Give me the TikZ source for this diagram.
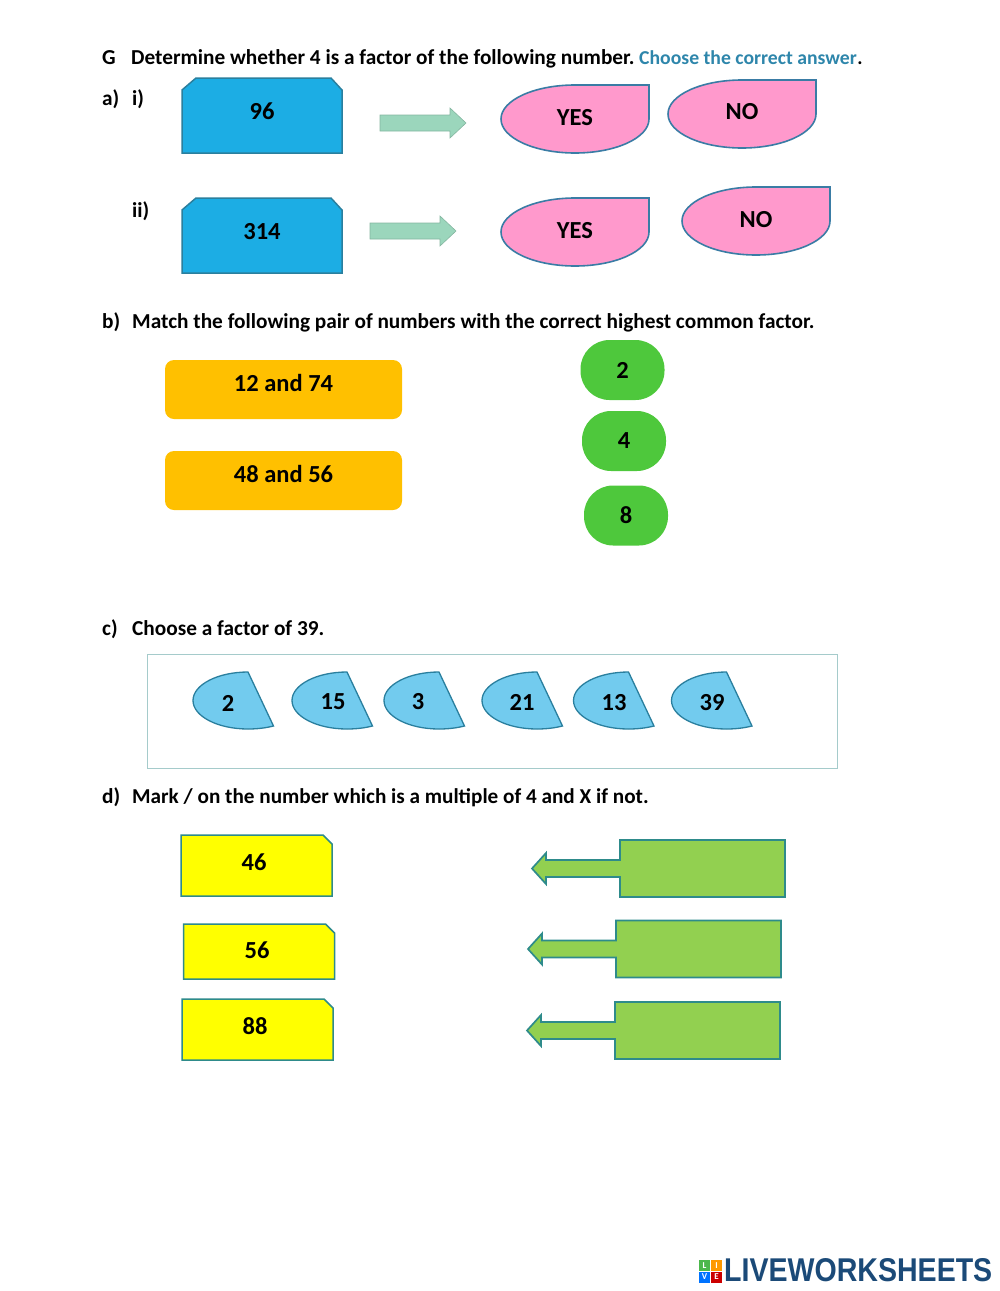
\documentclass[tikz,border=0pt]{standalone}
\usepackage{fontspec}
\setmainfont{Carlito}
\newfontfamily\logofont{Liberation Sans}
\usepackage{graphicx}
\definecolor{blockblue}{HTML}{1CADE4}
\definecolor{skyblue}{HTML}{72CBEE}
\definecolor{edgeblue}{HTML}{2A7F9E}
\definecolor{blockpink}{HTML}{FF99CC}
\definecolor{edgepink}{HTML}{3A7CA5}
\definecolor{blockorange}{HTML}{FFC000}
\definecolor{blockgreen}{HTML}{4EC83C}
\definecolor{blockyellow}{HTML}{FFFF00}
\definecolor{limegreen}{HTML}{92D050}
\definecolor{edgeteal}{HTML}{2E8B8B}
\definecolor{arrowmint}{HTML}{9BD6BC}
\definecolor{framegray}{HTML}{A5CBCB}
\definecolor{headteal}{HTML}{2E86AB}
\definecolor{logoblue}{HTML}{1B4A78}
% shapes with their top left corner at (#1,#2)
\newcommand{\cutbox}[2]{\draw[cutshape, shift={(#1,#2)}] (0,75) -- (0,12) -- (14,0) -- (149,0) -- (160,12) -- (160,75) -- cycle;}
\newcommand{\dropbox}[2]{\draw[dropshape, shift={(#1,#2)}] (148,0) -- (148,34)
 .. controls (148,52.8) and (114.9,68) .. (74,68)
 .. controls (33.1,68) and (0,52.8) .. (0,34)
 .. controls (0,15.2) and (33.1,0) .. (74,0) -- cycle;}
\newcommand{\piebox}[1]{\draw[pieshape, shift={(#1,672)}] (80.5,54)
 .. controls (72.5,56) and (64,57) .. (55,57)
 .. controls (24.6,57) and (0,44.2) .. (0,28.5)
 .. controls (0,12.8) and (24.6,0) .. (55,0) -- cycle;}
% #3 is the height of the tag
\newcommand{\tagbox}[3]{\draw[tagshape, shift={(#1,#2)}] (0,0) -- (142,0) -- (151,9) -- (151,#3) -- (0,#3) -- cycle;}
% #1 tip x, #2 top of the box
\newcommand{\callout}[2]{\draw[calloutshape, shift={(#1,#2)}] (0,28.5) -- (14,13) -- (14,20) -- (88,20) -- (88,0) -- (253,0) -- (253,57) -- (88,57) -- (88,37) -- (14,37) -- (14,44) -- cycle;}
\newcommand{\fatarrow}[2]{\draw[arrowshape, shift={(#1,#2)}] (0,-8) -- (70,-8) -- (70,-15) -- (86,0) -- (70,15) -- (70,8) -- (0,8) -- cycle;}
\begin{document}
\begin{tikzpicture}[x=1pt, y=-1pt, line join=miter,
textline/.style={anchor=base west, inner sep=0pt, font=\fontsize{21.3}{25}\selectfont\bfseries},
hintline/.style={anchor=base west, inner sep=0pt, font=\fontsize{19.7}{23}\selectfont\bfseries},
value/.style={inner sep=0pt, font=\fontsize{24.5}{28}\selectfont\bfseries},
cutshape/.style={fill=blockblue, draw=edgeblue, line width=1.5pt},
dropshape/.style={fill=blockpink, draw=edgepink, line width=1.6pt},
pieshape/.style={fill=skyblue, draw=edgeblue, line width=1.3pt},
tagshape/.style={fill=blockyellow, draw=edgeteal, line width=1.5pt},
calloutshape/.style={fill=limegreen, draw=edgeteal, line width=1.7pt},
arrowshape/.style={fill=arrowmint, draw=arrowmint!85!black, line width=.6pt},
pairbox/.style={fill=blockorange, rounded corners=9pt, minimum width=237pt, minimum height=59pt, inner sep=0pt, font=\fontsize{24.5}{28}\selectfont\bfseries},
pillbox/.style={fill=blockgreen, rounded corners=29pt, minimum width=84pt, minimum height=60pt, inner sep=0pt, font=\fontsize{24.5}{28}\selectfont\bfseries}
]
\useasboundingbox (0,0) rectangle (1000,1291);

% Heading
\node[textline] (headG) at (102,64.5) {G};
\node[textline] (headtext) at (131,64.5) {Determine whether 4 is a factor of the following number.};
\node[hintline, text=headteal] (headhint) at (639,64.5) {Choose the correct answer};
\node[hintline] (headdot) at (headhint.base east) {.};

% Part a
\node[textline] (parta) at (102,105) {a)};
\node[textline] (parti) at (132,105) {i)};
\node[textline] (partii) at (132,217) {ii)};
\cutbox{182}{78}
\cutbox{182}{198}
\node[value] (num96) at (262,111) {96};
\node[value] (num314) at (262,231.5) {314};
\fatarrow{380}{123}
\fatarrow{370}{231}
\dropbox{501}{85}
\dropbox{668}{80}
\dropbox{501}{198}
\dropbox{682}{187}
\node[value] (yes1) at (575,117.5) {YES};
\node[value] (no1) at (742,112) {NO};
\node[value] (yes2) at (575,230.5) {YES};
\node[value] (no2) at (756,219.5) {NO};

% Part b
\node[textline] (partb) at (102,328.5) {b)};
\node[textline] (partbtext) at (132,328.5) {Match the following pair of numbers with the correct highest common factor.};
\node[pairbox] (pair1) at (283.5,389.5) {\raisebox{13pt}{12 and 74}};
\node[pairbox] (pair2) at (283.5,480.5) {\raisebox{13pt}{48 and 56}};
\node[pillbox] (hcf2) at (622.5,370) {2};
\node[pillbox] (hcf4) at (624,441) {4};
\node[pillbox] (hcf8) at (626,515.5) {8};

% Part c
\node[textline] (partc) at (102,635) {c)};
\node[textline] (partctext) at (132,635) {Choose a factor of 39.};
\node[draw=framegray, line width=1pt, minimum width=690pt, minimum height=114pt, inner sep=0pt] (factorframe) at (492,711) {};
\piebox{193}
\piebox{292}
\piebox{384}
\piebox{482}
\piebox{573.5}
\piebox{671.5}
\node[value] (fac2) at (228,703) {2};
\node[value] (fac15) at (333,702) {15};
\node[value] (fac3) at (418,702) {3};
\node[value] (fac21) at (522,702) {21};
\node[value] (fac13) at (614,703) {13};
\node[value] (fac39) at (712,703) {39};

% Part d
\node[textline] (partd) at (102,803.5) {d)};
\node[textline, font=\fontsize{21.2}{25}\selectfont\bfseries] (partdtext) at (132,803.5) {Mark / on the number which is a multiple of 4 and X if not.};
\tagbox{181}{835}{61}
\tagbox{183.5}{924}{55}
\tagbox{182}{999}{61}
\node[value] (mul46) at (254,862) {46};
\node[value] (mul56) at (257,950) {56};
\node[value] (mul88) at (255,1026) {88};
\callout{532}{840}
\callout{528}{920.5}
\callout{527}{1002}

% Logo
\node[fill=green!60!black!70, minimum size=11pt, inner sep=0pt, text=white, font=\fontsize{9}{9}\selectfont\bfseries] (tileL) at (704.5,1265.5) {L};
\node[fill=orange!80!yellow, minimum size=11pt, inner sep=0pt, text=white, font=\fontsize{9}{9}\selectfont\bfseries] (tileI) at (716.5,1265.5) {I};
\node[fill=blue!55!cyan, minimum size=11pt, inner sep=0pt, text=white, font=\fontsize{9}{9}\selectfont\bfseries] (tileV) at (704.5,1277) {V};
\node[fill=red!80!black, minimum size=11pt, inner sep=0pt, text=white, font=\fontsize{9}{9}\selectfont\bfseries] (tileE) at (716.5,1277) {E};
\node[anchor=west, inner sep=0pt, text=logoblue] (logo) at (724,1270.5) {\resizebox{268pt}{23pt}{\logofont\bfseries LIVEWORKSHEETS}};

\end{tikzpicture}
\end{document}
